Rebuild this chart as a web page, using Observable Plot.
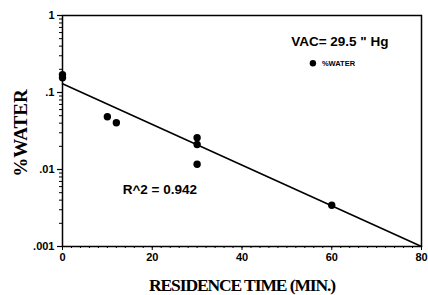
<!DOCTYPE html>
<html>
<head>
<meta charset="utf-8">
<script src="https://cdn.jsdelivr.net/npm/d3@7"></script>
<script src="https://cdn.jsdelivr.net/npm/@observablehq/plot@0.6"></script>
<style>
  html, body { margin: 0; padding: 0; background: #fff; }
  #chart svg { display: block; }
</style>
</head>
<body>
<div id="chart"></div>
<script>
// Observed data (residence time in minutes, % water)
const timeMin = [0, 0, 10, 12, 30, 30, 30, 60];
const pctWater = [0.17, 0.155, 0.0485, 0.0405, 0.0258, 0.0211, 0.0117, 0.00343];
// Regression line endpoints
const fitTime = [0, 80];
const fitWater = [0.13, 0.001];
// Tick values and labels
const xTicks = [0, 20, 40, 60, 80];
const yTicks = [1, 0.1, 0.01, 0.001];
const yTickLabels = ["1", ".1", ".01", ".001"];
// Texts
const xTitle = "RESIDENCE TIME (MIN.)";
const yTitle = "%WATER";
const vacText = "VAC= 29.5 \" Hg";
const legendText = "%WATER";
const r2Text = "R^2 = 0.942";

const points = timeMin.map((t, i) => ({t, w: pctWater[i]}));
const fit = fitTime.map((t, i) => ({t, w: fitWater[i]}));
const yMinor = [];
for (const d of [0.001, 0.01, 0.1]) for (let k = 2; k <= 9; k++) yMinor.push(d * k);
const xMinor = d3.range(0, 81, 2);

const sans = "'Liberation Sans', Arial, sans-serif";
const serif = "'Liberation Serif', 'Times New Roman', serif";

const chart = Plot.plot({
  width: 428,
  height: 295,
  marginLeft: 62,
  marginRight: 7,
  marginTop: 15,
  marginBottom: 49,
  style: {fontFamily: sans, background: "#fff", color: "#000"},
  x: {domain: [0, 80]},
  y: {type: "log", domain: [0.001, 1]},
  marks: [
    Plot.frame({stroke: "#000", strokeWidth: 1.5}),
    Plot.axisY(yMinor, {tickSize: 3, text: null, label: null, strokeWidth: 1}),
    Plot.axisY(yTicks, {tickSize: 5, tickPadding: 3, label: null, strokeWidth: 1.2,
      tickFormat: (d) => yTickLabels[yTicks.indexOf(d)],
      fontSize: 11, fontWeight: "bold"}),
    Plot.axisX(xMinor, {tickSize: 2, text: null, label: null}),
    Plot.axisX(xTicks, {tickSize: 4, tickPadding: 3, label: null, fontSize: 11, fontWeight: "bold"}),
    Plot.line(fit, {x: "t", y: "w", stroke: "#000", strokeWidth: 1.6}),
    Plot.dot(points, {x: "t", y: "w", r: 3.7, fill: "#000", stroke: "none"}),
    Plot.text([vacText], {x: 61.8, y: 0.46, fontSize: 13.5, fontWeight: "bold", fontFamily: sans}),
    Plot.dot([legendText], {x: 55.8, y: 0.24, r: 3.2, fill: "#000", stroke: "none"}),
    Plot.text([legendText], {x: 57.8, y: 0.24, textAnchor: "start", fontSize: 7.5, fontWeight: "bold", fontFamily: sans}),
    Plot.text([r2Text], {x: 21.7, y: 0.0055, fontSize: 13.5, fontWeight: "bold", fontFamily: sans}),
    Plot.text([xTitle], {frameAnchor: "bottom", dy: 44, fontSize: 17.5, fontWeight: "bold", fontFamily: serif}),
    Plot.text([yTitle], {frameAnchor: "left", textAnchor: "middle", lineAnchor: "middle", dx: -42, dy: 2, rotate: -90, fontSize: 19, fontWeight: "bold", fontFamily: serif})
  ]
});
d3.select(chart).selectAll("text")
  .filter(function () { return this.textContent === xTitle; })
  .attr("letter-spacing", "-1.1px");
document.getElementById("chart").appendChild(chart);
</script>
</body>
</html>
